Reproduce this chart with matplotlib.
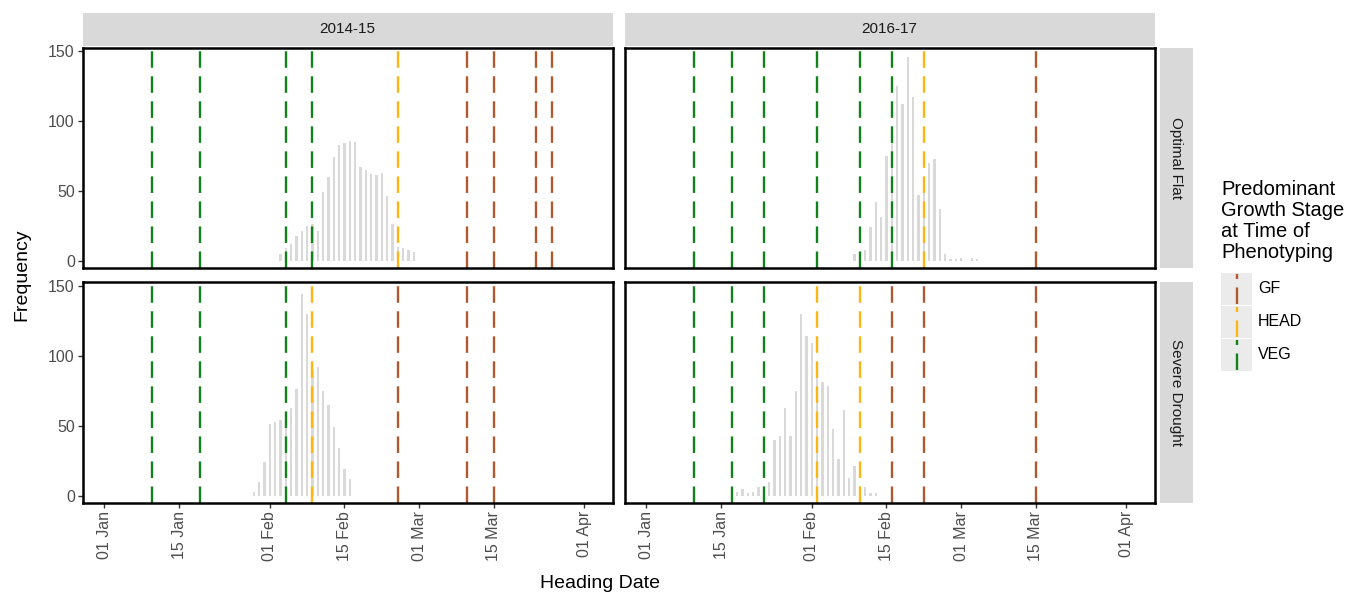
import datetime as dt

import matplotlib
matplotlib.use("Agg")
import matplotlib.pyplot as plt
import matplotlib.dates as mdates
from matplotlib.lines import Line2D
from matplotlib.patches import Rectangle

plt.rcParams['font.family'] = ['Liberation Sans', 'DejaVu Sans']

# ---- data -------------------------------------------------------------
seasons = ["2014-15", "2016-17"]
treatments = ["Optimal Flat", "Severe Drought"]

# Daily heading-date counts: first day of each run, then one count per day
flat_1415_start = "02-03"
flat_1415_counts = [5, 9, 12, 18, 21, 25, 26, 21, 49, 60, 74, 83, 84, 86, 85,
                    67, 65, 62, 61, 63, 46, 26, 10, 9, 8, 6]
flat_1617_start = "02-09"
flat_1617_counts = [5, 6, 8, 24, 42, 31, 75, 95, 125, 112, 146, 117, 47, 60,
                    70, 73, 37, 5, 1, 1, 2, 0, 2, 1]
drought_1415_start = "01-29"
drought_1415_counts = [3, 10, 24, 51, 53, 54, 57, 63, 76, 144, 130, 90, 92,
                       75, 65, 49, 34, 19, 12]
drought_1617_start = "01-18"
drought_1617_counts = [3, 5, 2, 3, 6, 7, 10, 40, 43, 63, 43, 75, 130, 114,
                       109, 95, 81, 78, 48, 26, 61, 13, 21, 7, 6, 2, 2]

# Phenotyping dates and the predominant growth stage on each date
flat_1415_dates = ["01-10", "01-19", "02-04", "02-09", "02-25", "03-10",
                   "03-15", "03-23", "03-26"]
flat_1415_stage = ["VEG", "VEG", "VEG", "VEG", "HEAD", "GF", "GF", "GF", "GF"]
flat_1617_dates = ["01-10", "01-17", "01-23", "02-02", "02-10", "02-16",
                   "02-22", "03-15"]
flat_1617_stage = ["VEG", "VEG", "VEG", "VEG", "VEG", "VEG", "HEAD", "GF"]
drought_1415_dates = ["01-10", "01-19", "02-04", "02-09", "02-25", "03-10",
                      "03-15"]
drought_1415_stage = ["VEG", "VEG", "VEG", "HEAD", "GF", "GF", "GF"]
drought_1617_dates = ["01-10", "01-17", "01-23", "02-02", "02-10", "02-16",
                      "02-22", "03-15"]
drought_1617_stage = ["VEG", "VEG", "VEG", "HEAD", "HEAD", "GF", "GF", "GF"]

stage_levels = ["GF", "HEAD", "VEG"]
stage_colors = {"GF": "#B0592E", "HEAD": "#FDB515", "VEG": "#11821B"}

tick_dates = ["01-01", "01-15", "02-01", "02-15", "03-01", "03-15", "04-01"]
y_ticks = [0, 50, 100, 150]

# ---- helpers ----------------------------------------------------------
BASE_YEAR = 2015  # both seasons share one Jan-Apr calendar axis


def to_num(md):
    m, d = (int(v) for v in md.split("-"))
    return mdates.date2num(dt.datetime(BASE_YEAR, m, d))


W, H = 1348, 596
fig = plt.figure(figsize=(W / 100, H / 100), dpi=100)
fig.patch.set_facecolor("white")


def px_axes(x0, y0, x1, y1, **kw):
    return fig.add_axes([x0 / W, 1 - y1 / H, (x1 - x0) / W, (y1 - y0) / H], **kw)


panels = {
    (0, 0): (flat_1415_start, flat_1415_counts, flat_1415_dates, flat_1415_stage),
    (0, 1): (flat_1617_start, flat_1617_counts, flat_1617_dates, flat_1617_stage),
    (1, 0): (drought_1415_start, drought_1415_counts, drought_1415_dates, drought_1415_stage),
    (1, 1): (drought_1617_start, drought_1617_counts, drought_1617_dates, drought_1617_stage),
}

col_x = [(82.5, 612.5), (624.5, 1154.5)]
row_y = [(47.7, 268.3), (282.3, 503.3)]

jan1 = to_num("01-01")
xlim = (jan1 - 4.1, jan1 + 95.27)
ylim = (-5.3, 152.3)
dash = (0, (7, 3.6))

for (r, c), (start, counts, dates, stages) in panels.items():
    x0, x1 = col_x[c]
    y0, y1 = row_y[r]
    ax = px_axes(x0, y0, x1, y1)
    s = to_num(start)
    xs = [s + i for i in range(len(counts))]
    ax.bar(xs, counts, width=0.45, color="#D9D9D9", zorder=2)
    for d, st in zip(dates, stages):
        ax.axvline(to_num(d), color=stage_colors[st], lw=1.7,
                   linestyle=dash, zorder=3)
    ax.set_xlim(*xlim)
    ax.set_ylim(*ylim)
    for sp in ax.spines.values():
        sp.set_linewidth(1.8)
        sp.set_color("black")
        sp.set_zorder(5)
    ax.tick_params(axis="both", direction="out", length=3.5, width=1.0,
                   color="#333333", labelcolor="#4D4D4D", labelsize=11.5,
                   pad=2)
    ax.set_yticks(y_ticks)
    ax.set_xticks([to_num(t) for t in tick_dates])
    ax.xaxis.set_major_formatter(mdates.DateFormatter("%d %b"))
    if c == 0:
        ax.set_yticklabels([str(v) for v in y_ticks])
    else:
        ax.tick_params(axis="y", length=0, labelleft=False)
    if r == 1:
        for lab in ax.get_xticklabels():
            lab.set_rotation(90)
    else:
        ax.tick_params(axis="x", length=0, labelbottom=False)

# facet strips
for c, season in enumerate(seasons):
    x0, x1 = col_x[c]
    sax = px_axes(x0, 12.5, x1, 45.5)
    sax.set_facecolor("#D9D9D9")
    sax.set_xticks([]); sax.set_yticks([])
    for sp in sax.spines.values():
        sp.set_visible(False)
    sax.text(0.5, 0.5, season, ha="center", va="center", fontsize=11,
             color="#1A1A1A", transform=sax.transAxes)

for r, treat in enumerate(treatments):
    y0, y1 = row_y[r]
    sax = px_axes(1160, y0, 1192.5, y1)
    sax.set_facecolor("#D9D9D9")
    sax.set_xticks([]); sax.set_yticks([])
    for sp in sax.spines.values():
        sp.set_visible(False)
    sax.text(0.5, 0.5, treat, ha="center", va="center", fontsize=11,
             color="#1A1A1A", rotation=-90, transform=sax.transAxes)

# axis titles
fig.text(22 / W, 1 - 275 / H, "Frequency", rotation=90, ha="center",
         va="center", fontsize=14)
fig.text(600 / W, 1 - 583 / H, "Heading Date", ha="center", va="center",
         fontsize=14)

# legend
fig.text(1221 / W, 1 - 180 / H,
         "Predominant\nGrowth Stage\nat Time of\nPhenotyping",
         ha="left", va="top", fontsize=14.5, linespacing=1.13)
lax = px_axes(1215, 270, 1340, 372)
lax.set_xlim(1215, 1340)
lax.set_ylim(372, 270)
lax.axis("off")
key_top = 272
key_h = 33
for i, st in enumerate(stage_levels):
    ty = key_top + i * key_h
    lax.add_patch(Rectangle((1221, ty + 0.5), 31, key_h - 1,
                            facecolor="#EBEBEB", edgecolor="none"))
    lax.add_line(Line2D([1236.5, 1236.5], [ty + key_h - 1.5, ty + 1.5],
                        color=stage_colors[st], lw=1.7, linestyle=dash))
    lax.text(1258, ty + key_h / 2, st, ha="left", va="center",
             fontsize=11.5, color="black")

fig.savefig("out.png", dpi=100, facecolor="white")
